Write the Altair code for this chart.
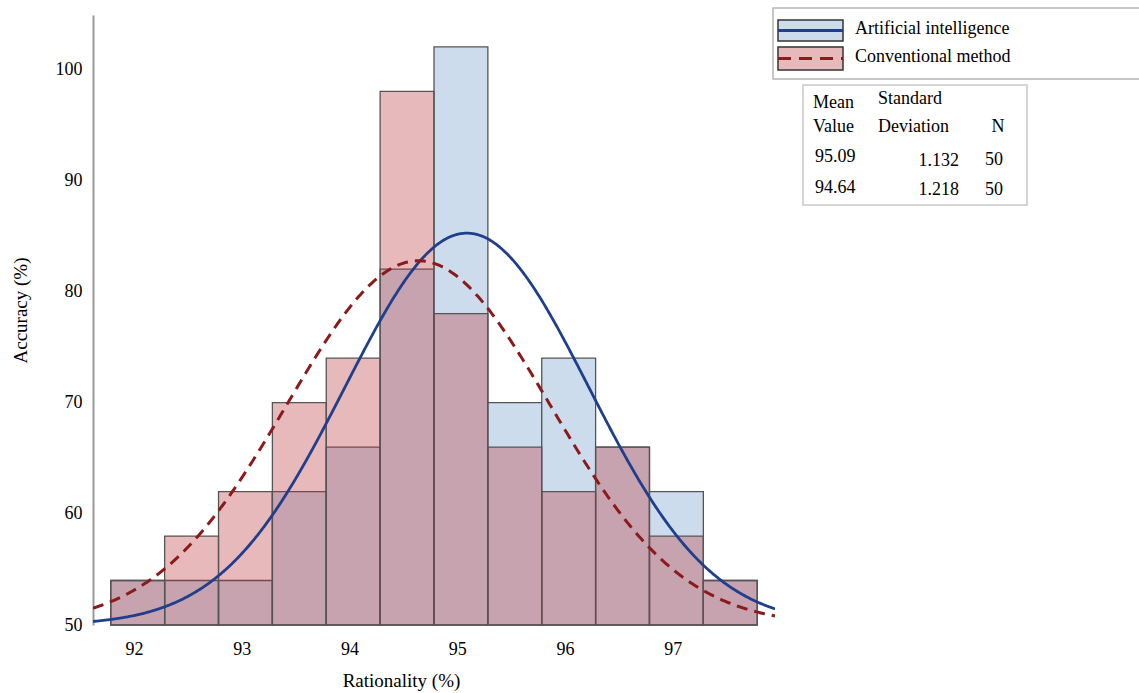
import altair as alt
import pandas as pd

# ---------------- data ----------------
series = ["Artificial intelligence", "Conventional method"]
bin_start = [91.785, 92.285, 92.785, 93.285, 93.785, 94.285,
             94.785, 95.285, 95.785, 96.285, 96.785, 97.285]
bin_width = 0.5
ai_top = [54, 54, 54, 62, 66, 82, 102, 70, 74, 66, 62, 54]
conv_top = [54, 58, 62, 70, 74, 98, 78, 66, 62, 66, 58, 54]
mean_value = [95.09, 94.64]
std_dev = [1.132, 1.218]
n_obs = [50, 50]
x_ticks = [92, 93, 94, 95, 96, 97]
y_ticks = [50, 60, 70, 80, 90, 100]
y_base = 50        # axis value of the histogram baseline
per_count = 4      # axis units per observation in a bin
x_range = [91.62, 97.95]
y_range = [50, 104.86]

# ---------------- style ----------------
W, H = 682, 610
FONT = "Liberation Serif"
AI_FILL = "#cddced"
CONV_FILL = "#bb3137"
AI_LINE = "#1f3e8c"
CONV_LINE = "#8b1a1a"

xscale = alt.Scale(domain=x_range, nice=False, zero=False)
yscale = alt.Scale(domain=y_range, nice=False, zero=False)

xaxis = alt.Axis(values=x_ticks, title="Rationality (%)", domain=False, ticks=False,
                 tickSize=0, grid=False, labelPadding=15, labelFont=FONT,
                 labelFontSize=18, labelColor="black", format="d",
                 titleFont=FONT, titleFontSize=19, titleFontWeight="normal",
                 titleColor="black", titleX=308, titleY=55, titleAlign="center",
                 titleBaseline="middle")
yaxis = alt.Axis(values=y_ticks, title="Accuracy (%)", domain=True,
                 domainColor="#9a9a9a", domainWidth=2, ticks=False, tickSize=0,
                 grid=False, labelPadding=11, labelFont=FONT, labelFontSize=18,
                 labelColor="black", format="d",
                 titleFont=FONT, titleFontSize=19, titleFontWeight="normal",
                 titleColor="black", titleX=-73, titleY=295, titleAngle=270,
                 titleAlign="center", titleBaseline="middle")

bars = pd.DataFrame({
    "start": bin_start,
    "end": [s + bin_width for s in bin_start],
    "ai": ai_top,
    "conv": conv_top,
})

ai_bars = alt.Chart(bars).mark_rect(
    fill=AI_FILL, stroke="#555555", strokeWidth=1.3
).encode(
    x=alt.X("start:Q", scale=xscale, axis=xaxis),
    x2="end:Q",
    y=alt.Y("ai:Q", scale=yscale, axis=yaxis),
    y2=alt.datum(y_base),
)

conv_bars = alt.Chart(bars).mark_rect(
    fill=CONV_FILL, fillOpacity=0.34, stroke="#555555", strokeWidth=1.3
).encode(
    x=alt.X("start:Q", scale=xscale, axis=xaxis),
    x2="end:Q",
    y=alt.Y("conv:Q", scale=yscale, axis=yaxis),
    y2=alt.datum(y_base),
)


def normal_curve(i, color, dash=None, width=2.6):
    expr = (f"{y_base} + {per_count}*{n_obs[i]}*{bin_width}/({std_dev[i]}*sqrt(2*PI))"
            f"*exp(-0.5*pow((datum.x-{mean_value[i]})/{std_dev[i]},2))")
    kw = dict(color=color, strokeWidth=width, clip=True)
    if dash:
        kw["strokeDash"] = dash
    return alt.Chart(alt.sequence(x_range[0], x_range[1] + 0.001, 0.01, as_="x")).transform_calculate(
        y=expr
    ).mark_line(**kw).encode(
        x=alt.X("x:Q", scale=xscale, axis=xaxis),
        y=alt.Y("y:Q", scale=yscale, axis=yaxis),
    )


ai_curve = normal_curve(0, AI_LINE, width=2.8)
conv_curve = normal_curve(1, CONV_LINE, dash=[11, 7], width=3)

one = pd.DataFrame({"a": [0]})


def box(x, x2, y, y2, fill="white", stroke="#b5b5b5", sw=1.5, opacity=1):
    return alt.Chart(one).mark_rect(fill=fill, stroke=stroke, strokeWidth=sw,
                                    fillOpacity=opacity).encode(
        x=alt.value(x), x2=alt.value(x2), y=alt.value(y), y2=alt.value(y2))


def hline(x, x2, y, color, width, dash=None):
    kw = dict(color=color, strokeWidth=width)
    if dash:
        kw["strokeDash"] = dash
    return alt.Chart(one).mark_rule(**kw).encode(
        x=alt.value(x), x2=alt.value(x2), y=alt.value(y))


def label(text, x, y, align="left", size=18):
    return alt.Chart(one).mark_text(text=text, align=align, baseline="middle",
                                    font=FONT, fontSize=size, color="black").encode(
        x=alt.value(x), y=alt.value(y))


# legend (coordinates relative to plot origin)
legend = [
    box(680, 1070, -7, 64, stroke="#b5b5b5"),
    box(685, 750, 5, 26, fill=AI_FILL, stroke="#333333", sw=1.5),
    hline(685, 750, 15.5, AI_LINE, 3),
    box(685, 750, 32, 55, fill="#e8b9bb", stroke="#333333", sw=1.5),
    hline(685, 750, 43.5, CONV_LINE, 3, dash=[13, 8]),
    label(series[0], 762, 14),
    label(series[1], 762, 42),
]

# statistics table
table = [
    box(710, 934, 70, 190, fill="white", stroke="#c8c8c8", sw=1.5),
    label("Mean", 720, 88),
    label("Standard", 785, 84),
    label("Value", 720, 112),
    label("Deviation", 785, 112),
    label("N", 905, 112, align="center"),
    label(f"{mean_value[0]:.2f}", 722, 142),
    label(f"{std_dev[0]:.3f}", 866, 146, align="right"),
    label(f"{n_obs[0]}", 901, 145, align="center"),
    label(f"{mean_value[1]:.2f}", 722, 173),
    label(f"{std_dev[1]:.3f}", 866, 175, align="right"),
    label(f"{n_obs[1]}", 901, 175, align="center"),
]

chart = alt.layer(
    ai_bars, conv_bars, ai_curve, conv_curve, *legend, *table
).properties(
    width=W, height=H,
    autosize=alt.AutoSizeParams(type="none"),
    padding={"left": 93, "top": 15, "right": 364, "bottom": 68},
    background="white",
).configure_view(stroke=None)

chart.save("out.html", embed_options={"renderer": "svg", "actions": False})
